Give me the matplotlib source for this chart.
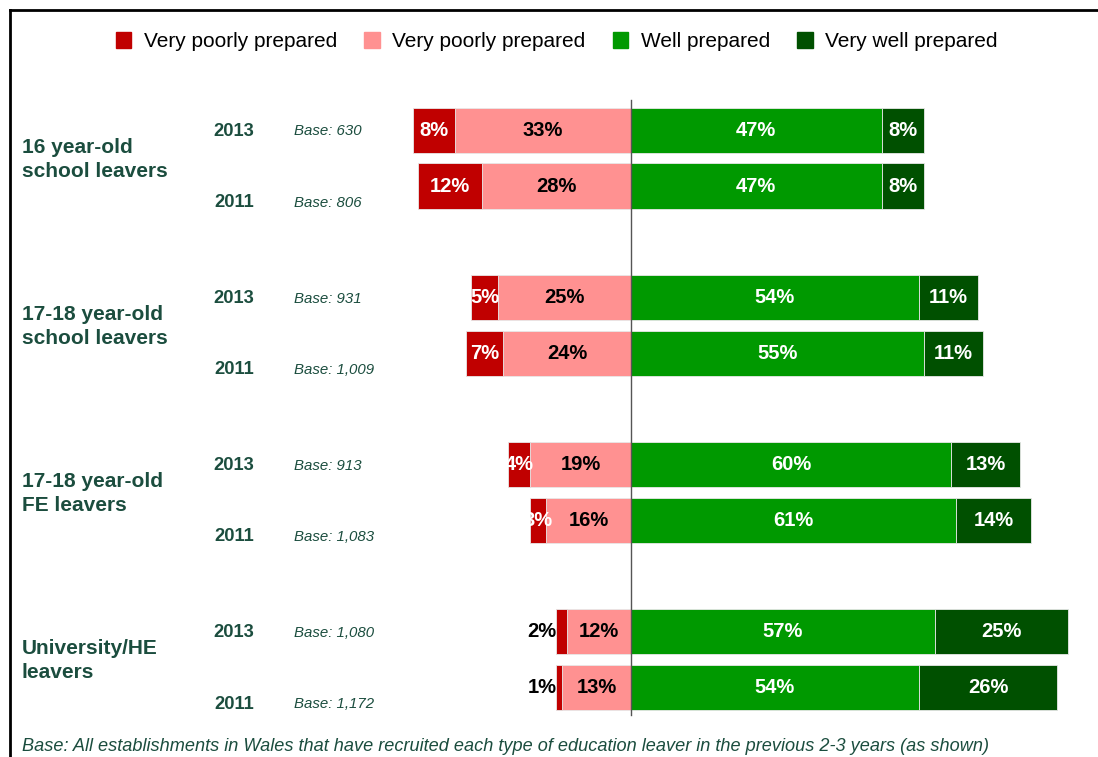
import numpy as np
import matplotlib.pyplot as plt
from matplotlib.patches import Patch
from matplotlib.lines import Line2D

plt.rcParams['font.family'] = ['Liberation Sans', 'DejaVu Sans']

# data
groups = ['16 year-old\nschool leavers', '17-18 year-old\nschool leavers',
          '17-18 year-old\nFE leavers', 'University/HE\nleavers']
years = ['2013', '2011']
bases = ['630', '806', '931', '1,009', '913', '1,083', '1,080', '1,172']
very_poor = [8, 12, 5, 7, 4, 3, 2, 1]
poor = [33, 28, 25, 24, 19, 16, 12, 13]
well = [47, 47, 54, 55, 60, 61, 57, 54]
very_well = [8, 8, 11, 11, 13, 14, 25, 26]
legend_labels = ['Very poorly prepared', 'Very poorly prepared', 'Well prepared', 'Very well prepared']

c_vpoor = '#C00000'
c_poor = '#FF9191'
c_well = '#009900'
c_vwell = '#005000'
txt_green = '#1B4D3E'

fig = plt.figure(figsize=(10.98, 7.57), dpi=100)
ax = fig.add_axes([0, 0, 1, 1])
ax.set_xlim(-118.4, 87.6)
ax.set_ylim(11.25, -2.34)
ax.axis('off')

# row positions: 3 units per group, 1 unit between years
pos = np.array([g * 3 + i for g in range(len(groups)) for i in range(len(years))], dtype=float)
h = 0.81
vp = np.array(very_poor)
pr = np.array(poor)
wl = np.array(well)
vw = np.array(very_well)

kw = dict(height=h, edgecolor='#e8e8e8', linewidth=0.6)
ax.barh(pos, -pr, color=c_poor, **kw)
ax.barh(pos, -vp, left=-pr, color=c_vpoor, **kw)
ax.barh(pos, wl, color=c_well, **kw)
ax.barh(pos, vw, left=wl, color=c_vwell, **kw)

ax.plot([0, 0], [-0.55, 10.5], color='#555555', lw=1)

lab = dict(fontsize=14.5, fontweight='bold', va='center')
for k, y in enumerate(pos):
    # very poor: small university values sit outside the bar
    if k >= 6:
        ax.text(-pr[k] - vp[k], y, f'{vp[k]}%', ha='right', color='black', **lab)
    else:
        ax.text(-pr[k] - vp[k] / 2, y, f'{vp[k]}%', ha='center', color='white', **lab)
    ax.text(-pr[k] / 2, y, f'{pr[k]}%', ha='center', color='black', **lab)
    ax.text(wl[k] / 2, y, f'{wl[k]}%', ha='center', color='white', **lab)
    ax.text(wl[k] + vw[k] / 2, y, f'{vw[k]}%', ha='center', color='white', **lab)

    yr = years[k % 2]
    yy = y + (0.02 if k % 2 == 0 else 0.3)
    ax.text(-74.5, yy, yr, ha='center', va='center', fontsize=13.2,
            fontweight='bold', color=txt_green)
    ax.text(-63.2, yy, 'Base: ' + bases[k], ha='left', va='center', fontsize=10.8,
            style='italic', color=txt_green)

for g, name in enumerate(groups):
    ax.text(-114.3, g * 3 + 0.52, name, ha='left', va='center', fontsize=15,
            fontweight='bold', color=txt_green, linespacing=1.3)

handles = [Patch(color=c) for c in [c_vpoor, c_poor, c_well, c_vwell]]
fig.legend(handles, legend_labels, loc='center', bbox_to_anchor=(0.507, 0.945),
           ncol=4, frameon=False, fontsize=15, handlelength=0.75, handleheight=0.85,
           handletextpad=0.6, columnspacing=1.3)

fig.text(0.02, 0.0145, 'Base: All establishments in Wales that have recruited each type of '
         'education leaver in the previous 2-3 years (as shown)',
         fontsize=13.1, style='italic', color=txt_green, ha='left', va='center')

# frame (left and top edges visible)
fig.add_artist(Line2D([0.0095, 0.0095], [0, 0.987], color='black', lw=2, transform=fig.transFigure))
fig.add_artist(Line2D([0.0095, 1.0], [0.987, 0.987], color='black', lw=2, transform=fig.transFigure))

fig.savefig('out.png', dpi=100)
